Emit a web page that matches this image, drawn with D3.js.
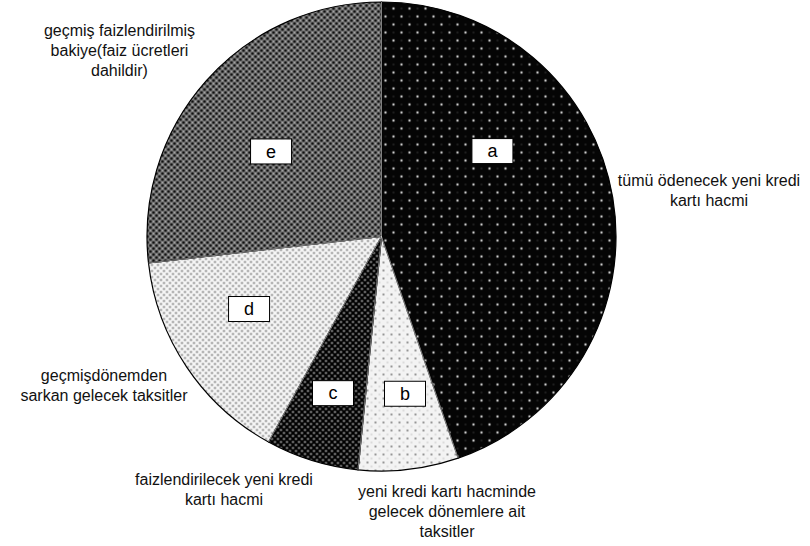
<!DOCTYPE html>
<html>
<head>
<meta charset="utf-8">
<script src="https://cdn.jsdelivr.net/npm/d3@7"></script>
<style>
  html, body { margin: 0; padding: 0; background: #fff; }
  svg { display: block; font-family: "Liberation Sans", Arial, sans-serif; }
</style>
</head>
<body>
<svg id="chart" width="810" height="546"></svg>
<script>
// Slice keys, shares (%) and the descriptive caption for each slice
const categories = ["a", "b", "c", "d", "e"];
const values = [44.7, 6.9, 6.4, 15.2, 26.8];
const descriptions = [
  ["tümü ödenecek yeni kredi", "kartı hacmi"],
  ["yeni kredi kartı hacminde", "gelecek dönemlere ait", "taksitler"],
  ["faizlendirilecek yeni kredi", "kartı hacmi"],
  ["geçmişdönemden", "sarkan gelecek taksitler"],
  ["geçmiş faizlendirilmiş", "bakiye(faiz ücretleri", "dahildir)"]
];

// Layout
const W = 810, H = 546;
const cx = 381.5, cy = 236.5, R = 234.5;
// letter boxes: [angle in degrees clockwise from 12 o'clock, distance from centre]
const boxPlacement = [[52.4, 140], [171.5, 159], [197.2, 164], [241.3, 151], [307.6, 139.4]];
// caption anchors: [centre x, first baseline]
const captionPlacement = [[709, 186], [447, 497], [224, 485], [104, 381], [119.5, 36]];

const svg = d3.select("#chart");
svg.append("rect").attr("width", W).attr("height", H).attr("fill", "#fff");

// Fill textures for the slices
const defs = svg.append("defs");
function pattern(id, size, bg, dots) {
  const p = defs.append("pattern").attr("id", id)
    .attr("patternUnits", "userSpaceOnUse")
    .attr("width", size).attr("height", size);
  p.append("rect").attr("width", size).attr("height", size).attr("fill", bg);
  dots.forEach(([x, y, r, c]) => p.append("circle").attr("cx", x).attr("cy", y).attr("r", r).attr("fill", c));
}
pattern("pa", 16, "#050505", [[4, 4, 1.2, "#d0d0d0"], [12, 12, 1.2, "#d0d0d0"], [12, 4, 1, "#262626"], [4, 12, 1, "#262626"]]);
pattern("pb", 8, "#f3f3f3", [[2, 2, 0.9, "#6a6a6a"], [6, 6, 0.9, "#cfcfcf"]]);
pattern("pc", 6, "#000", [[1.5, 1.5, 1.1, "#b5b5b5"], [4.5, 4.5, 1.1, "#b5b5b5"]]);
pattern("pd", 6, "#f6f6f6", [[1.5, 1.5, 1.1, "#7a7a7a"], [4.5, 4.5, 1.1, "#7a7a7a"]]);
pattern("pe", 6, "#858585", [[0, 0, 1.6, "#111"], [6, 0, 1.6, "#111"], [0, 6, 1.6, "#111"], [6, 6, 1.6, "#111"], [3, 3, 1.6, "#111"], [3, 0, 0.8, "#c8c8c8"], [0, 3, 0.8, "#c8c8c8"], [6, 3, 0.8, "#c8c8c8"], [3, 6, 0.8, "#c8c8c8"]]);
const fills = ["url(#pa)", "url(#pb)", "url(#pc)", "url(#pd)", "url(#pe)"];

const pie = d3.pie().sort(null).value(d => d)(values);
const arc = d3.arc().innerRadius(0).outerRadius(R);

const g = svg.append("g").attr("transform", `translate(${cx},${cy})`);

g.selectAll("path.slice")
  .data(pie)
  .join("path")
  .attr("class", "slice")
  .attr("d", arc)
  .attr("fill", (d, i) => fills[i])
  .attr("stroke", "#000")
  .attr("stroke-width", 1.2)
  .attr("stroke-linejoin", "round");

// thin light line inside each radial edge
g.selectAll("line.edge")
  .data(pie)
  .join("line")
  .attr("class", "edge")
  .attr("x1", 0).attr("y1", 0)
  .attr("x2", d => R * Math.sin(d.startAngle))
  .attr("y2", d => -R * Math.cos(d.startAngle))
  .attr("stroke", "#fff")
  .attr("stroke-width", 0.5);

// Letter boxes
const bw = 41, bh = 25;
const boxes = g.selectAll("g.box")
  .data(pie)
  .join("g")
  .attr("class", "box")
  .attr("transform", (d, i) => {
    const [deg, r] = boxPlacement[i];
    const a = deg * Math.PI / 180;
    return `translate(${r * Math.sin(a)},${-r * Math.cos(a)})`;
  });
boxes.append("rect")
  .attr("x", -bw / 2).attr("y", -bh / 2)
  .attr("width", bw).attr("height", bh)
  .attr("fill", "#fff").attr("stroke", "#000").attr("stroke-width", 1);
boxes.append("text")
  .attr("text-anchor", "middle")
  .attr("dy", "0.35em")
  .attr("font-size", 18)
  .attr("fill", "#000")
  .text((d, i) => categories[i]);

// Captions
descriptions.forEach((lines, i) => {
  const [x, y] = captionPlacement[i];
  const t = svg.append("text")
    .attr("text-anchor", "middle")
    .attr("font-size", 16)
    .attr("fill", "#111");
  lines.forEach((s, j) => t.append("tspan").attr("x", x).attr("y", y + j * 20).text(s));
});
</script>
</body>
</html>
